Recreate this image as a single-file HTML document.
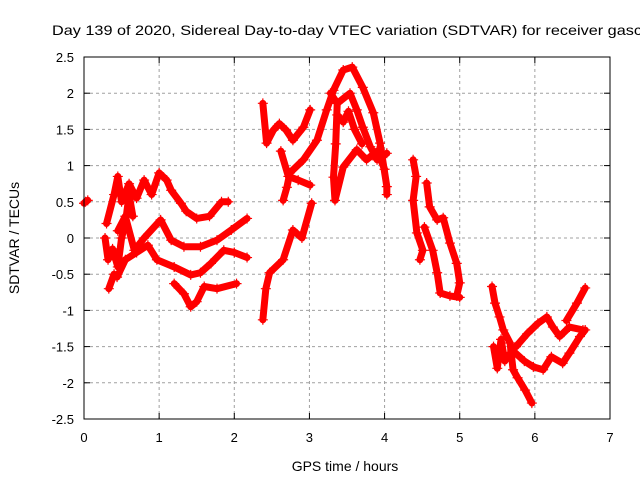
<!DOCTYPE html>
<html><head><meta charset="utf-8"><style>
body{margin:0;background:#fff}
svg{display:block;font-family:"Liberation Sans",sans-serif}
</style></head><body>
<svg id="chart" width="640" height="480" viewBox="0 0 640 480">
<text x="52" y="35" font-size="14" fill="#000" textLength="590" lengthAdjust="spacingAndGlyphs">Day 139 of 2020, Sidereal Day-to-day VTEC variation (SDTVAR) for receiver gasc</text>
<text x="345" y="471" font-size="14" text-anchor="middle">GPS time / hours</text>
<text transform="translate(19,238) rotate(-90)" font-size="14" text-anchor="middle">SDTVAR / TECUs</text>
<g id="grid"></g><g id="axes"></g><g id="marks"></g>
<rect x="84" y="57" width="526" height="362" fill="none" stroke="#000" stroke-width="1"/>
</svg>
<script>
const xTicks=[0,1,2,3,4,5,6,7];
const yTicks=[2.5,2,1.5,1,0.5,0,-0.5,-1,-1.5,-2,-2.5];
const yTickLabels=["2.5","2","1.5","1","0.5","0","-0.5","-1","-1.5","-2","-2.5"];
const trackDot=[[0.0,0.48],[0.02,0.5],[0.05,0.52]];
const trackA=[[0.3,0.2],[0.4,0.6],[0.45,0.85],[0.5,0.5],[0.6,0.75],[0.7,0.55],[0.8,0.8],[0.9,0.6],[1.0,0.9],[1.1,0.8],[1.16,0.66],[1.29,0.48],[1.36,0.37],[1.5,0.27],[1.67,0.3],[1.83,0.5],[1.92,0.5]];
const trackB=[[0.45,0.1],[0.55,0.3],[0.67,-0.17],[0.8,0.0],[1.02,0.25],[1.16,-0.03],[1.33,-0.12],[1.55,-0.12],[1.77,-0.03],[1.96,0.11],[2.17,0.27]];
const trackC=[[0.33,-0.7],[0.4,-0.5],[0.44,-0.54],[0.55,-0.3],[0.7,-0.2],[0.85,-0.1],[0.97,-0.3],[1.2,-0.4],[1.42,-0.51],[1.55,-0.48],[1.69,-0.35],[1.86,-0.17],[2.0,-0.2],[2.17,-0.27]];
const trackD=[[1.2,-0.63],[1.33,-0.77],[1.42,-0.95],[1.5,-0.88],[1.6,-0.67],[1.77,-0.7],[2.03,-0.63]];
const trackL=[[0.28,0.0],[0.32,-0.3],[0.38,-0.15],[0.45,-0.4],[0.5,0.0],[0.55,0.2],[0.6,0.6],[0.65,0.3]];
const trackE=[[2.38,-1.13],[2.42,-0.7],[2.47,-0.48],[2.65,-0.3],[2.78,0.11],[2.9,0.0],[3.03,0.48]];
const trackF=[[2.65,0.52],[2.7,0.7],[2.74,0.9],[2.92,1.08],[3.1,1.35],[3.23,1.77],[3.32,2.04],[3.45,2.32],[3.57,2.36],[3.71,2.08],[3.85,1.73],[3.94,1.31],[4.03,0.71],[4.03,0.6]];
const trackG=[[2.38,1.86],[2.43,1.31],[2.52,1.49],[2.6,1.58],[2.69,1.49],[2.78,1.35],[2.92,1.53],[3.01,1.77]];
const trackH=[[2.62,1.2],[2.72,0.85],[2.85,0.8],[3.01,0.73]];
const trackI=[[3.28,2.0],[3.37,1.86],[3.54,2.0],[3.63,1.77],[3.71,1.53],[3.81,1.26],[3.9,1.08],[4.03,1.17]];
const trackJ=[[3.37,1.86],[3.35,1.3],[3.32,0.84],[3.34,0.52],[3.45,0.98],[3.63,1.22],[3.76,1.08],[3.9,1.2],[4.0,0.95]];
const trackK=[[3.37,1.7],[3.45,1.6],[3.52,1.75],[3.6,1.5],[3.7,1.3]];
const trackM=[[4.38,1.08],[4.42,0.85],[4.38,0.52],[4.43,0.07],[4.51,-0.17],[4.47,-0.3]];
const trackN=[[4.56,0.76],[4.6,0.43],[4.7,0.25],[4.78,0.28],[4.87,-0.07],[4.96,-0.35],[5.0,-0.62],[4.96,-0.8]];
const trackO=[[4.53,0.15],[4.64,-0.17],[4.7,-0.48],[4.74,-0.76],[4.87,-0.8],[5.0,-0.82]];
const trackP=[[5.43,-0.67],[5.47,-0.9],[5.53,-1.09],[5.58,-1.27],[5.67,-1.45],[5.71,-1.82],[5.77,-1.93],[5.87,-2.1],[5.96,-2.28]];
const trackQ=[[5.45,-1.5],[5.5,-1.8],[5.55,-1.4],[5.6,-1.7],[5.7,-1.55],[5.86,-1.7],[5.98,-1.78],[6.11,-1.82],[6.22,-1.64],[6.37,-1.73],[6.46,-1.59],[6.6,-1.36],[6.67,-1.27]];
const trackR=[[5.75,-1.5],[5.9,-1.32],[6.04,-1.18],[6.16,-1.09],[6.24,-1.23],[6.33,-1.36],[6.46,-1.23],[6.64,-1.27]];
const trackS=[[6.42,-1.14],[6.56,-0.9],[6.67,-0.69]];
const tracks=[trackDot,trackA,trackB,trackC,trackD,trackL,trackE,trackF,trackG,trackH,trackI,trackJ,trackK,trackM,trackN,trackO,trackP,trackQ,trackR,trackS];

const NS="http://www.w3.org/2000/svg";
const X0=84,X1=610,Y0=419,Y1=57;
function sx(h){return X0+(h-0)/7*(X1-X0);}
function sy(v){return Y0-(v+2.5)/5*(Y0-Y1);}
function mk(tag,attrs,parent){const e=document.createElementNS(NS,tag);for(const k in attrs)e.setAttribute(k,attrs[k]);parent.appendChild(e);return e;}
const grid=document.getElementById('grid'),axes=document.getElementById('axes'),marks=document.getElementById('marks');
xTicks.forEach(t=>{
  const x=sx(t);
  const g=mk('line',{x1:x,x2:x,y1:Y1,y2:Y0,stroke:'#a0a0a0','stroke-dasharray':'3,3'},grid);
  
  
  mk('line',{x1:x,x2:x,y1:Y0,y2:Y0-6,stroke:'#000'},axes);
  mk('line',{x1:x,x2:x,y1:Y1,y2:Y1+6,stroke:'#000'},axes);
  const tx=mk('text',{x:x,y:442,'font-size':13,'text-anchor':'middle'},axes);
  tx.textContent=String(t);
  
  
});
yTicks.forEach((t,i)=>{
  const y=sy(t);
  const g=mk('line',{x1:X0,x2:X1,y1:y,y2:y,stroke:'#a0a0a0','stroke-dasharray':'3,3'},grid);
  
  
  mk('line',{x1:X0,x2:X0+6,y1:y,y2:y,stroke:'#000'},axes);
  mk('line',{x1:X1,x2:X1-6,y1:y,y2:y,stroke:'#000'},axes);
  const tx=mk('text',{x:74,y:y+5,'font-size':13,'text-anchor':'end'},axes);
  tx.textContent=yTickLabels[i];
  
  
});
tracks.forEach(tr=>{
  const pl=mk('polyline',{points:tr.map(p=>sx(p[0])+','+sy(p[1])).join(' '),fill:'none',stroke:'#ff0000','stroke-width':7,'stroke-linejoin':'round','stroke-linecap':'round'},marks);
  
  
  tr.forEach(p=>{
    const x=sx(p[0]),y=sy(p[1]);
    const m=mk('path',{d:`M${x-5},${y}H${x+5}M${x},${y-5}V${y+5}`,stroke:'#ff0000','stroke-width':1.2},marks);
    
    
  });
});
</script>
</body></html>
